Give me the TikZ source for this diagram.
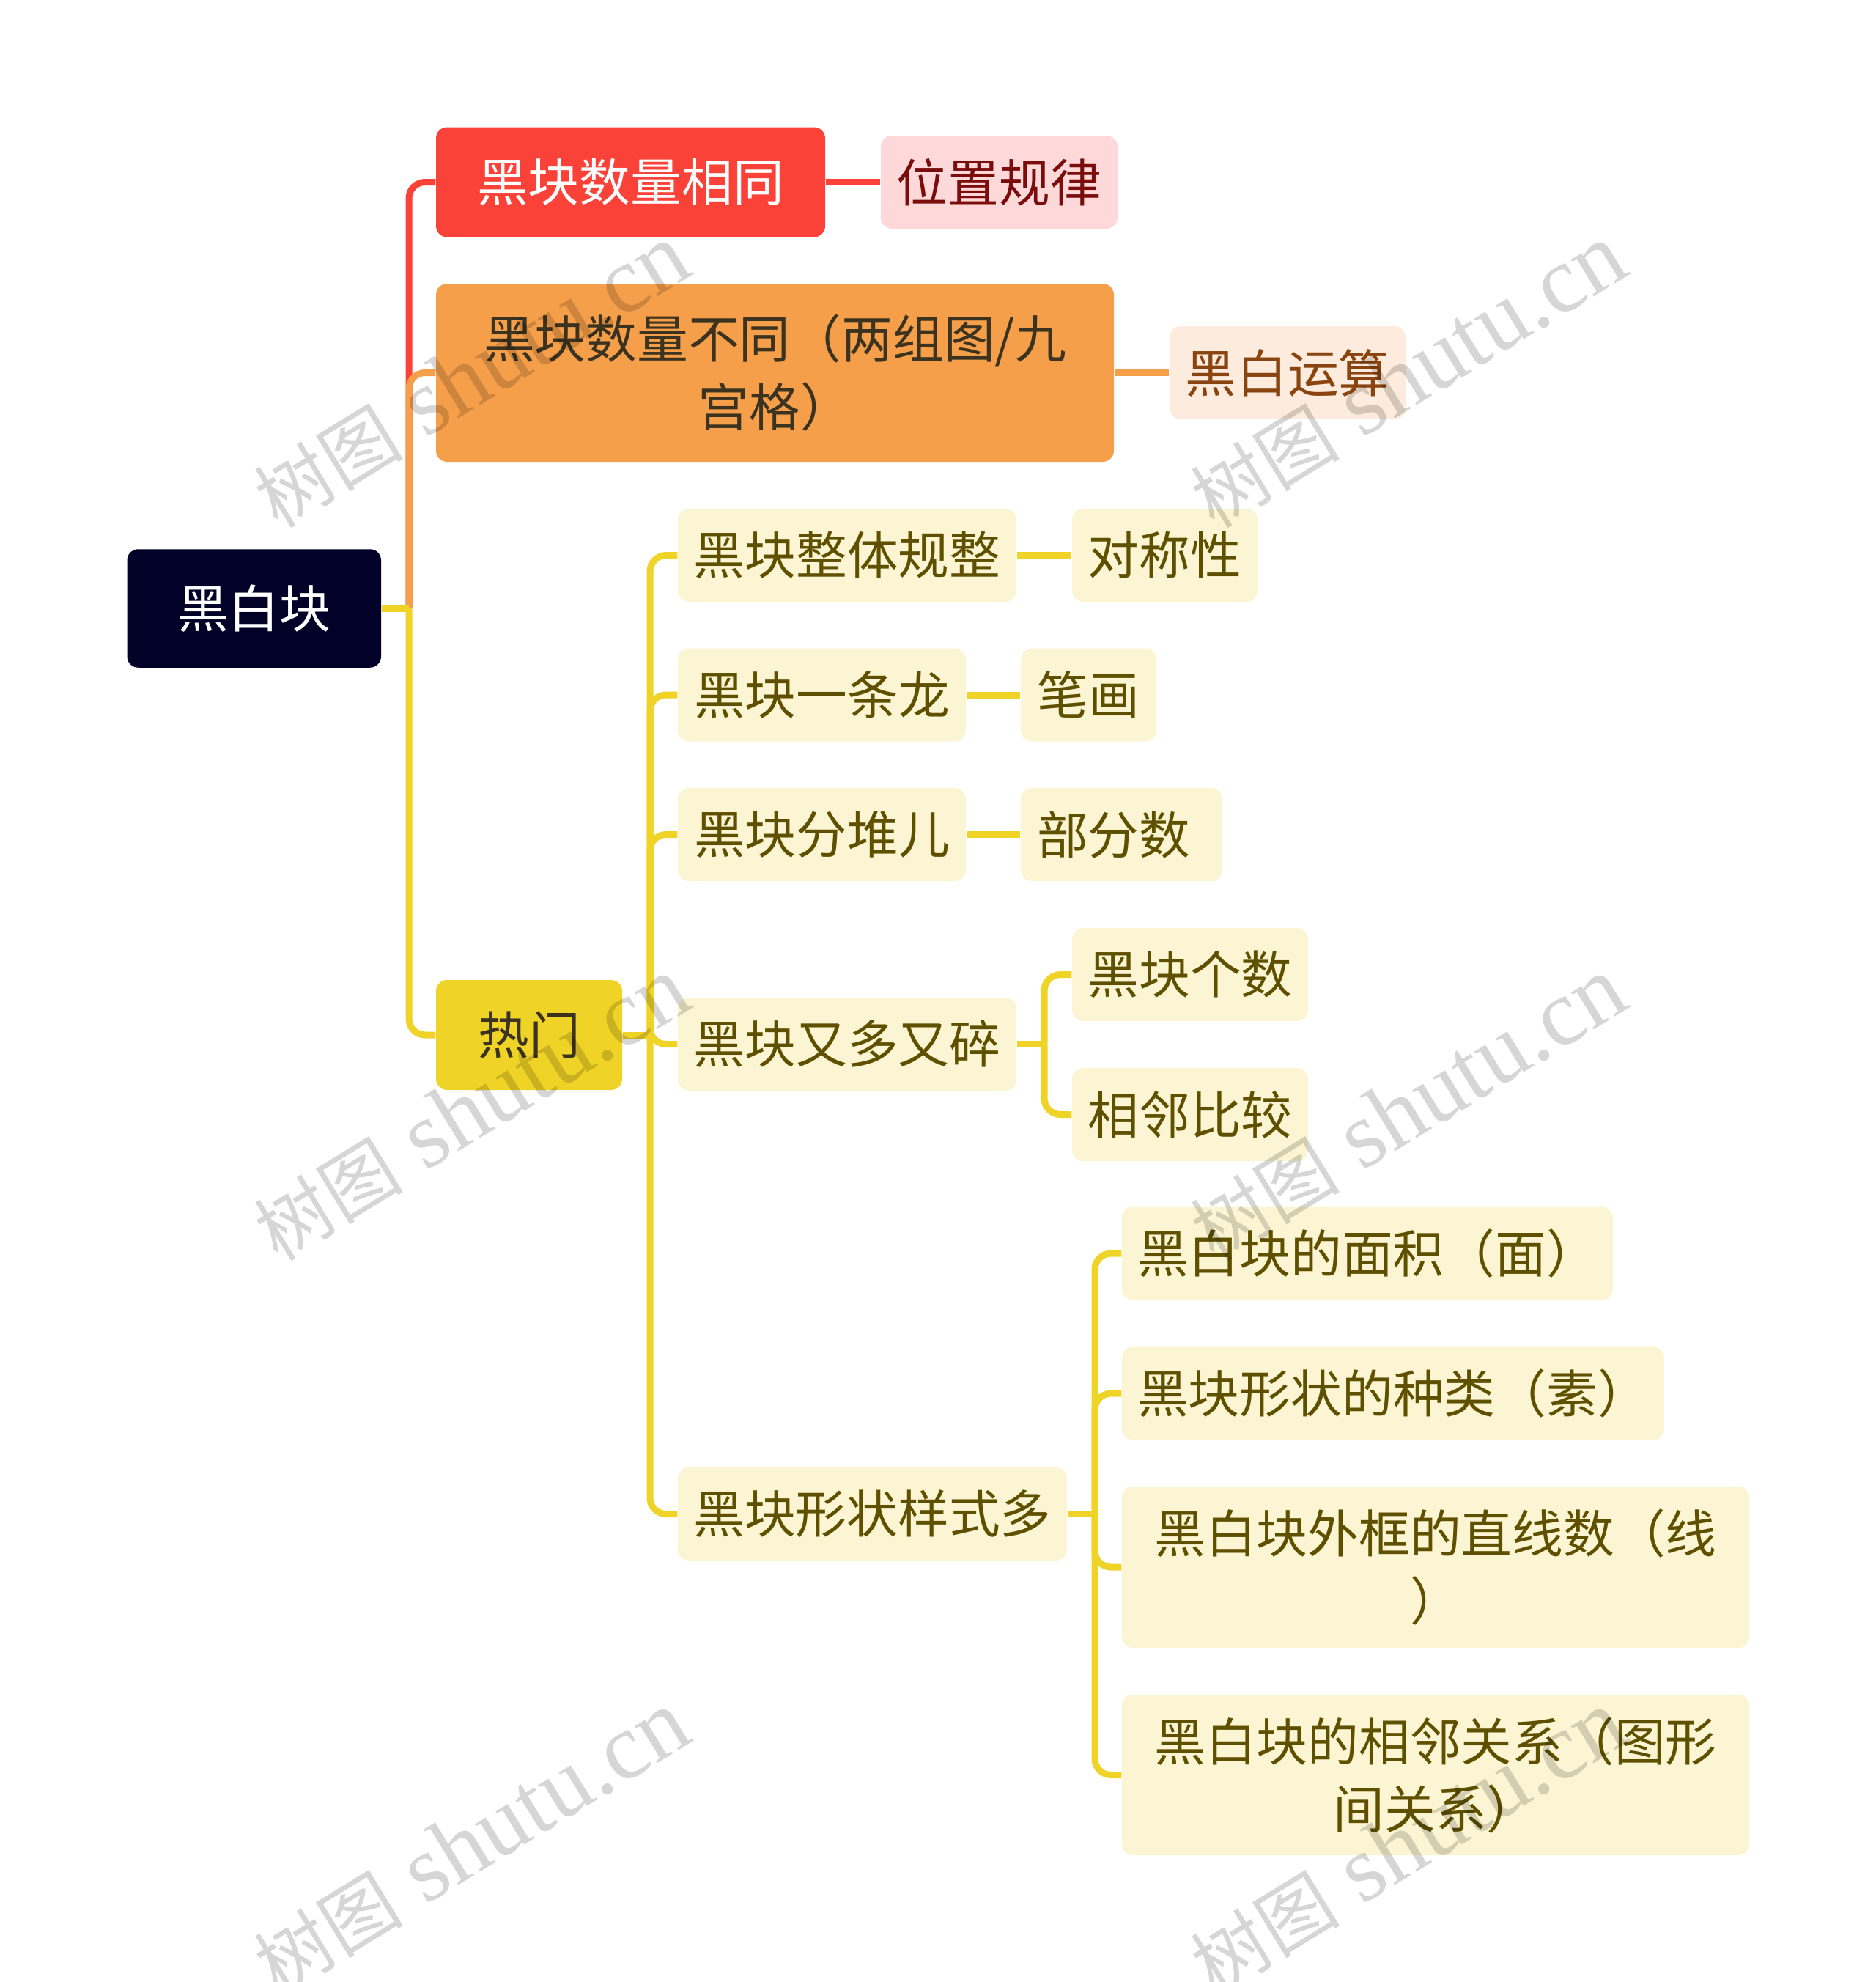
\documentclass[tikz,border=0pt]{standalone}
\usepackage{fontspec}
\setmainfont{Noto Sans CJK SC}
\newfontfamily\latinfont{Liberation Serif}
\definecolor{rootfill}{HTML}{020228}
\definecolor{redfill}{HTML}{FB4238}
\definecolor{orangefill}{HTML}{F59F4B}
\definecolor{yellowfill}{HTML}{F0D327}
\definecolor{pinkfill}{HTML}{FFD9D9}
\definecolor{peachfill}{HTML}{FDEBDD}
\definecolor{creamfill}{HTML}{FCF5D3}
\definecolor{pinktext}{HTML}{7A0C0C}
\definecolor{peachtext}{HTML}{8A4410}
\definecolor{creamtext}{HTML}{5F5000}
\definecolor{darktext}{HTML}{3B3320}
\tikzset{
  box/.style={inner sep=0pt,align=center,rounded corners=.15cm,
    font=\fontsize{19.85}{26.2}\selectfont},
  cream/.style={box,fill=creamfill,text=creamtext,minimum height=1.27cm},
  link/.style={line width=.09cm,rounded corners=.22cm,color=#1},
  mark text/.style={rotate=31.5,text=black,opacity=.16,font=\fontsize{29}{33}\selectfont}
}
\begin{document}
\begin{tikzpicture}[y=-1cm]
\useasboundingbox (0,0) rectangle (25.6,27.04);
% top levels
\node[box,fill=rootfill,text=white,minimum width=3.465cm,minimum height=1.615cm](root) at (3.4675,8.30){黑白块};
\node[box,fill=redfill,text=white,minimum width=5.31cm,minimum height=1.5cm](same) at (8.605,2.485){黑块数量相同};
\node[box,fill=pinkfill,text=pinktext,minimum width=3.23cm,minimum height=1.27cm](rule) at (13.635,2.485){位置规律};
\node[box,fill=orangefill,text=darktext,minimum width=9.25cm,minimum height=2.43cm](diff) at (10.575,5.085){黑块数量不同（两组图/九\\宫格）};
\node[box,fill=peachfill,text=peachtext,minimum width=3.22cm,minimum height=1.27cm](calc) at (17.57,5.085){黑白运算};
\node[box,fill=yellowfill,text=darktext,minimum width=2.54cm,minimum height=1.5cm](hot) at (7.22,14.12){热门};
% hot branch
\node[cream,minimum width=4.62cm](whole) at (11.56,7.575){黑块整体规整};
\node[cream,minimum width=2.53cm](sym) at (15.895,7.575){对称性};
\node[cream,minimum width=3.93cm](dragon) at (11.215,9.48){黑块一条龙};
\node[cream,minimum width=1.85cm](stroke) at (14.855,9.48){笔画};
\node[cream,minimum width=3.93cm](pile) at (11.215,11.385){黑块分堆儿};
\node[cream,inner xsep=.22cm,text width=2.31cm,align=left](part) at (15.305,11.385){部分数};
\node[cream,minimum width=4.62cm](many) at (11.56,14.245){黑块又多又碎};
\node[cream,minimum width=3.22cm](count) at (16.24,13.295){黑块个数};
\node[cream,minimum width=3.22cm](near) at (16.24,15.205){相邻比较};
\node[cream,minimum width=5.31cm](shape) at (11.905,20.655){黑块形状样式多};
\node[cream,minimum width=6.70cm](area) at (18.66,17.10){黑白块的面积（面）};
\node[cream,minimum width=7.40cm](kind) at (19.01,19.01){黑块形状的种类（素）};
\node[cream,minimum width=8.56cm,minimum height=2.20cm](line) at (19.59,21.38){黑白块外框的直线数（线\\）};
\node[cream,minimum width=8.56cm,minimum height=2.19cm](adj) at (19.59,24.215){黑白块的相邻关系（图形\\间关系）};
% trunks
\coordinate (rootfork) at (5.58,8.30);
\coordinate (hotfork) at (8.87,14.12);
\coordinate (manyfork) at (14.25,14.245);
\coordinate (shapefork) at (14.94,20.655);
\draw[link=redfill] (rootfork) |- (same.west);
\draw[link=orangefill] (rootfork) |- (diff.west);
\draw[link=yellowfill] (rootfork) |- (hot.west);
\draw[link=yellowfill] (root.east) -- (rootfork);
\draw[link=redfill] (same.east) -- (rule.west);
\draw[link=orangefill] (diff.east) -- (calc.west);
\draw[link=yellowfill] (hot.east) -- (hotfork);
\foreach \n in {whole,dragon,pile,many,shape}
  \draw[link=yellowfill] (hotfork) |- (\n.west);
\draw[link=yellowfill] (whole.east) -- (sym.west);
\draw[link=yellowfill] (dragon.east) -- (stroke.west);
\draw[link=yellowfill] (pile.east) -- (part.west);
\draw[link=yellowfill] (many.east) -- (manyfork);
\foreach \n in {count,near}
  \draw[link=yellowfill] (manyfork) |- (\n.west);
\draw[link=yellowfill] (shape.east) -- (shapefork);
\foreach \n in {area,kind,line,adj}
  \draw[link=yellowfill] (shapefork) |- (\n.west);
% watermark
\foreach \x/\y [count=\i] in {6.43/5.13,19.21/5.13,6.43/15.13,19.21/15.13,6.43/25.14,19.21/25.14}
  \node[mark text](stamp\i) at (\x,\y){树图{\latinfont\fontsize{36.6}{40}\selectfont\ shutu.cn}};
\end{tikzpicture}
\end{document}
